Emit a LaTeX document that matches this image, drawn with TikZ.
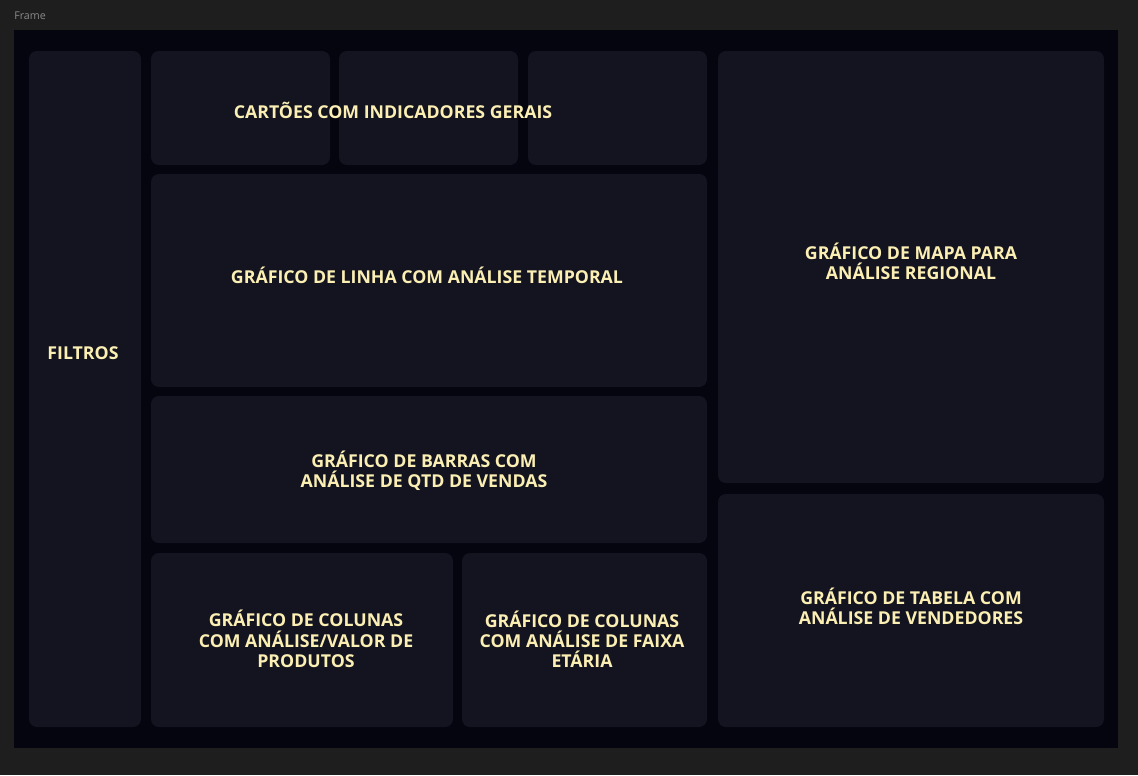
\documentclass[tikz,border=0pt]{standalone}
\usepackage{fontspec}
\setmainfont{Open Sans}
\usepackage{xcolor}
\usetikzlibrary{positioning}

\definecolor{canvasbg}{HTML}{1E1E1E}
\definecolor{framebg}{HTML}{05050F}
\definecolor{panelbg}{HTML}{13141F}
\definecolor{labeltxt}{HTML}{FCEFB4}
\definecolor{framename}{HTML}{8A8A8A}

\tikzset{
  panel/.style={fill=panelbg, rounded corners=6},
  paneltext/.style={text=labeltxt, font=\fontsize{13.3}{15.2}\selectfont\bfseries, align=center, inner sep=0pt}
}

\begin{document}
\begin{tikzpicture}[x=0.75pt, y=-0.75pt]
\useasboundingbox (0,0) rectangle (1138,775);
\fill[canvasbg] (0,0) rectangle (1138,775);
\node[text=framename, font=\fontsize{8}{10}\selectfont, anchor=west, inner sep=0pt] (framelabel) at (14,16) {Frame};

\fill[framebg] (14,30) rectangle (1118,748);

% left column
\fill[panel] (29,51) rectangle (141,727);

% cards
\foreach \x in {151,339,528}{
	\fill[panel] (\x,51) rectangle ++(179,114);
}

% middle column
\fill[panel] (151,174) rectangle (707,387);
\fill[panel] (151,396) rectangle (707,543);
\fill[panel] (151,553) rectangle (453,727);
\fill[panel] (462,553) rectangle (707,727);

% right column
\fill[panel] (718,51) rectangle (1104,483);
\fill[panel] (718,494) rectangle (1104,727);

\node[paneltext] (filtros) at (83,353) {FILTROS};
\node[paneltext] (cartoes) at (393,110) {CARTÕES COM INDICADORES GERAIS};
\node[paneltext] (linha) at (427,275) {GRÁFICO DE LINHA COM ANÁLISE TEMPORAL};
\node[paneltext] (barras) at (424,471) {GRÁFICO DE BARRAS COM\\ANÁLISE DE QTD DE VENDAS};
\node[paneltext] (produtos) at (306,639) {GRÁFICO DE COLUNAS\\COM ANÁLISE/VALOR DE\\PRODUTOS};
\node[paneltext] (faixa) at (582,639) {GRÁFICO DE COLUNAS\\COM ANÁLISE DE FAIXA\\ETÁRIA};
\node[paneltext] (mapa) at (911,261) {GRÁFICO DE MAPA PARA\\ANÁLISE REGIONAL};
\node[paneltext] (tabela) at (911,606) {GRÁFICO DE TABELA COM\\ANÁLISE DE VENDEDORES};

\end{tikzpicture}
\end{document}
